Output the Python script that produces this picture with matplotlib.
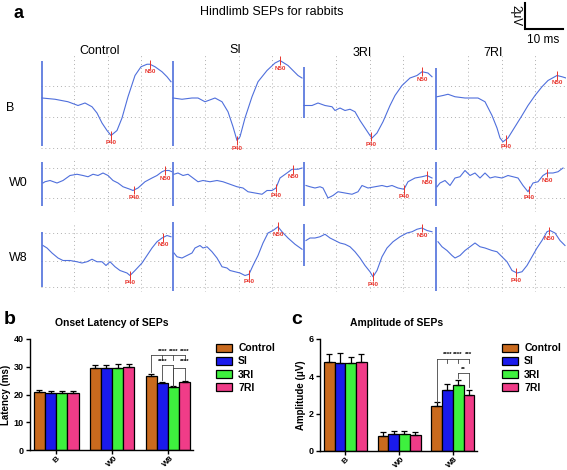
import numpy as np
import matplotlib
matplotlib.use('Agg')
import matplotlib.pyplot as plt
from matplotlib.patches import Patch

plt.rcParams['font.family'] = ['Liberation Sans', 'DejaVu Sans']

W, H = 567, 470

groups = ['Control', 'SI', '3RI', '7RI']
sessions = ['B', 'W0', 'W8']
bar_colors = ['#c96a1e', '#1a1aec', '#3ef03e', '#f03c88']
trace_color = '#4f6fdc'
mark_color = '#e8342c'

# ---- panel a: SEP traces (t in ms, v in uV) ----
t_b_control = [0.3, 4.2, 8.1, 11.1, 13.2, 15.3, 16.8, 18.3, 19.8, 21.0, 22.8, 24.3, 26.1, 28.2, 30.0, 31.8, 32.7, 34.2, 36.3, 37.8, 39.0]
v_b_control = [0.0, -0.1, -0.3, -0.6, -0.4, -0.7, -1.2, -2.0, -2.6, -3.0, -2.6, -1.6, 0.1, 1.8, 2.5, 2.7, 2.7, 2.5, 2.1, 1.7, 1.3]
t_b_si = [0.3, 3.0, 6.0, 7.8, 9.9, 12.9, 15.0, 16.8, 18.3, 19.5, 20.4, 21.9, 24.0, 25.8, 28.5, 30.9, 32.4, 34.8, 37.8, 39.0]
v_b_si = [0.0, -0.1, 0.0, 0.0, -0.3, 0.0, -0.3, -1.1, -2.3, -3.4, -3.1, -1.6, 0.1, 1.3, 2.2, 2.8, 3.0, 2.6, 1.8, 1.6]
t_b_3ri = [0.3, 2.7, 4.5, 6.6, 8.7, 9.6, 11.1, 12.6, 14.1, 15.6, 17.1, 18.6, 20.1, 20.7, 22.2, 24.0, 26.1, 27.6, 29.7, 32.1, 34.2, 35.7, 37.5, 38.7]
v_b_3ri = [-0.6, -0.6, -0.4, -0.6, -0.7, -1.0, -0.8, -1.0, -0.9, -1.1, -1.8, -2.4, -3.0, -3.2, -2.8, -1.9, -0.6, 0.2, 1.0, 1.6, 1.8, 2.1, 2.0, 1.7]
t_b_7ri = [0.6, 2.4, 3.9, 6.0, 9.0, 11.1, 12.9, 15.0, 17.1, 18.6, 19.5, 20.4, 21.9, 24.0, 26.1, 27.9, 30.0, 32.1, 33.9, 36.6, 38.1, 39.3]
v_b_7ri = [0.1, 0.2, 0.3, 0.1, 0.0, 0.0, 0.0, -0.3, -1.4, -2.4, -3.2, -3.5, -3.2, -2.3, -1.4, -0.6, 0.2, 0.9, 1.4, 1.8, 1.7, 1.6]

t_w0_control = [0.6, 1.2, 2.7, 4.8, 6.6, 8.7, 10.8, 12.6, 14.1, 15.6, 17.1, 18.6, 20.1, 21.6, 23.1, 24.6, 26.7, 27.6, 29.1, 31.2, 33.3, 34.8, 36.3, 37.2, 38.4, 39.3]
v_w0_control = [0.0, 0.1, 0.2, 0.0, 0.2, 0.6, 0.7, 0.6, 0.5, 0.7, 0.6, 0.8, 0.6, 0.2, 0.0, -0.3, -0.5, -0.6, -0.4, 0.1, 0.4, 0.6, 0.9, 1.0, 1.0, 0.9]
t_w0_si = [0.6, 1.8, 3.3, 4.8, 6.3, 7.8, 9.3, 11.4, 13.5, 15.3, 17.4, 19.5, 21.3, 22.8, 24.9, 27.0, 28.5, 30.0, 31.2, 32.4, 34.5, 36.0, 37.8, 39.0]
v_w0_si = [0.7, 0.8, 0.6, 0.7, 0.4, 0.1, 0.2, 0.1, 0.2, 0.1, -0.1, -0.3, -0.4, -0.7, -0.8, -0.9, -0.6, -0.6, -0.4, 0.4, 0.8, 1.1, 1.1, 1.2]
t_w0_3ri = [0.9, 2.1, 3.6, 5.1, 6.0, 7.5, 9.0, 10.5, 12.6, 14.7, 16.5, 17.7, 19.5, 21.6, 23.7, 25.2, 26.7, 28.5, 30.3, 31.5, 33.6, 35.7, 37.2, 38.7]
v_w0_3ri = [-0.2, -0.3, -0.4, -0.3, -0.4, -1.2, -1.0, -0.7, -0.8, -0.9, -0.7, -0.2, -0.4, -0.3, -0.2, -0.3, -0.2, -0.4, -0.5, 0.1, 0.4, 0.5, 0.6, 0.4]
t_w0_7ri = [0.6, 1.5, 3.0, 4.5, 6.0, 7.5, 9.0, 10.5, 12.0, 13.5, 15.0, 16.5, 18.0, 20.1, 21.9, 23.4, 24.9, 26.4, 27.9, 29.4, 30.9, 32.4, 33.6, 35.4, 36.9, 38.4]
v_w0_7ri = [-0.3, 0.0, 0.2, -0.2, 0.4, 0.5, 1.0, 0.6, 0.8, 0.4, 0.8, 0.4, 0.5, 0.4, 0.6, 0.5, 0.4, -0.2, -0.7, 0.0, 0.1, 0.6, 0.8, 0.8, 0.9, 1.2]

t_w8_control = [0.6, 1.8, 3.3, 5.1, 6.6, 8.7, 10.8, 12.3, 13.8, 15.3, 16.8, 18.3, 19.5, 20.7, 22.2, 23.7, 25.8, 26.7, 28.2, 30.3, 31.8, 33.3, 34.8, 36.3, 37.8, 39.0]
v_w8_control = [1.0, 0.8, 0.4, 0.0, -0.2, -0.2, -0.3, -0.4, -0.3, -0.1, -0.3, -0.3, -0.6, -0.3, -0.7, -1.0, -1.2, -1.4, -1.0, -0.4, 0.2, 0.8, 1.3, 1.6, 1.8, 1.7]
t_w8_si = [0.6, 1.5, 3.0, 4.5, 6.0, 6.9, 8.4, 9.3, 10.5, 12.0, 13.5, 15.0, 16.5, 17.4, 18.9, 20.4, 21.9, 23.1, 24.3, 25.8, 27.3, 28.8, 30.3, 31.8, 33.0, 34.8, 36.9, 39.0]
v_w8_si = [0.4, 0.1, 0.0, 0.2, 0.4, 0.8, 1.0, 0.8, 0.9, 0.5, 0.0, -0.7, -0.8, -1.0, -1.1, -1.2, -1.4, -1.3, -0.6, 0.2, 1.2, 2.0, 2.2, 2.5, 2.1, 1.6, 1.1, 0.7]
t_w8_3ri = [0.9, 2.1, 3.6, 5.1, 6.6, 8.1, 9.6, 11.1, 12.6, 14.1, 15.6, 17.1, 18.6, 20.1, 21.0, 22.2, 23.7, 25.2, 27.0, 29.1, 31.2, 32.7, 34.2, 35.7, 37.2, 38.7]
v_w8_3ri = [1.4, 1.6, 1.6, 1.7, 1.9, 1.6, 1.4, 1.2, 1.1, 0.9, 0.5, 0.0, -0.6, -1.1, -1.5, -1.0, 0.1, 0.8, 1.3, 1.7, 2.0, 2.1, 2.3, 2.4, 2.2, 2.1]
t_w8_7ri = [0.9, 2.1, 3.6, 5.1, 6.0, 7.5, 9.0, 10.5, 12.0, 13.5, 15.0, 17.1, 18.6, 20.1, 21.6, 23.1, 24.6, 26.1, 27.6, 29.1, 30.6, 32.1, 33.6, 34.5, 36.0, 37.5, 39.0]
v_w8_7ri = [1.3, 0.9, 0.6, 0.2, 0.0, 0.2, 0.6, 0.9, 1.2, 0.9, 0.8, 0.6, 0.5, 0.1, -0.3, -1.0, -1.2, -1.1, -0.6, 0.1, 0.8, 1.4, 2.1, 2.2, 2.0, 1.4, 1.0]

# stimulus artefact extent (uV) and peak latencies (ms) per trace
art_b = [(-3.8, 3.0), (-3.8, 3.0), (-1.6, 2.5), (-4.2, 2.4)]
art_w0 = [(-1.8, 1.7), (-1.8, 1.7), (-1.8, 1.7), (-1.8, 1.7)]
art_w8 = [(-2.3, 2.1), (-2.6, 2.9), (-0.6, 2.7), (-2.6, 2.5)]
p40_b = [21.0, 19.5, 20.4, 21.3]
n50_b = [32.7, 32.4, 35.7, 36.6]
p40_w0 = [27.9, 31.2, 30.3, 28.2]
n50_w0 = [37.2, 36.3, 37.2, 33.6]
p40_w8 = [26.7, 23.1, 21.0, 24.3]
n50_w8 = [36.6, 31.8, 35.7, 34.2]

# ---- panel b / c: bar data ----
lat_control = [20.8, 29.4, 26.7]
lat_si = [20.7, 29.6, 24.1]
lat_3ri = [20.7, 29.7, 22.6]
lat_7ri = [20.6, 30.0, 24.5]
lat_control_err = [1.0, 1.1, 0.7]
lat_si_err = [0.7, 1.2, 0.3]
lat_3ri_err = [0.6, 1.3, 0.5]
lat_7ri_err = [0.6, 1.1, 0.4]

amp_control = [4.75, 0.80, 2.40]
amp_si = [4.70, 0.90, 3.28]
amp_3ri = [4.70, 0.90, 3.55]
amp_7ri = [4.78, 0.88, 3.02]
amp_control_err = [0.45, 0.20, 0.20]
amp_si_err = [0.55, 0.15, 0.30]
amp_3ri_err = [0.35, 0.15, 0.25]
amp_7ri_err = [0.40, 0.12, 0.26]


fig = plt.figure(figsize=(W / 100, H / 100), dpi=100)


def px_rect(x, y, w, h):
    return [x / W, 1 - (y + h) / H, w / W, h / H]


def draw_trace(left, top, height, ylim, t, v, art, p40, n50, grid_y):
    ax = fig.add_axes(px_rect(left, top, 131, height))
    ax.set_xlim(0, 39.3)
    ax.set_ylim(*ylim)
    ax.axis('off')
    for gx in (10, 20, 30):
        ax.axvline(gx, color='#b0b0b0', lw=0.7, ls=(0, (1, 3)))
    for gy in grid_y:
        ax.axhline(gy, color='#b0b0b0', lw=0.7, ls=(0, (1, 3)))
    ax.vlines(0.15, art[0], art[1], color=trace_color, lw=1.2)
    ax.plot(t, v, color=trace_color, lw=0.8)
    for name, tm in (('P40', p40), ('N50', n50)):
        y = np.interp(tm, t, v)
        ax.vlines(tm, y - 0.35, y + 0.35, color=mark_color, lw=0.7)
        ax.text(tm, y - 0.4, name, ha='center', va='top', fontsize=4.5,
                color=mark_color, fontweight='bold')


rows = [
    (55, 95, (-4.16, 3.44), [1.0, -1.5, -4.0],
     [(t_b_control, v_b_control), (t_b_si, v_b_si), (t_b_3ri, v_b_3ri), (t_b_7ri, v_b_7ri)],
     art_b, p40_b, n50_b),
    (158, 54, (-2.32, 2.0), [1.2, -1.2],
     [(t_w0_control, v_w0_control), (t_w0_si, v_w0_si), (t_w0_3ri, v_w0_3ri), (t_w0_7ri, v_w0_7ri)],
     art_w0, p40_w0, n50_w0),
    (222, 70, (-2.72, 2.88), [2.0, -0.2, -2.3],
     [(t_w8_control, v_w8_control), (t_w8_si, v_w8_si), (t_w8_3ri, v_w8_3ri), (t_w8_7ri, v_w8_7ri)],
     art_w8, p40_w8, n50_w8),
]
col_left = [41, 172, 303, 435]

for top, height, ylim, grid_y, traces, arts, p40s, n50s in rows:
    for j in range(4):
        t, v = traces[j]
        draw_trace(col_left[j], top, height, ylim, t, v, arts[j], p40s[j], n50s[j], grid_y)

# panel a texts
fig.text(13 / W, 1 - 14 / H, 'a', fontsize=13, fontweight='bold', va='center')
fig.text(272 / W, 1 - 12 / H, 'Hindlimb SEPs for rabbits', fontsize=9, ha='center', va='center')
for name, xc, yc in zip(groups, [100, 235, 362, 493], [51, 50, 53, 53]):
    fig.text(xc / W, 1 - yc / H, name, fontsize=9, ha='center', va='center')
for name, xc, yc in zip(sessions, [10, 18, 18], [108, 183, 258]):
    fig.text(xc / W, 1 - yc / H, name, fontsize=9, ha='center', va='center')

# scale bar
sb = fig.add_axes(px_rect(525, 2, 45, 29))
sb.set_xlim(0, 11.8)
sb.set_ylim(-0.15, 2.08)
sb.axis('off')
sb.plot([0, 0, 10], [2, 0, 0], color='black', lw=1.5, solid_joinstyle='miter', clip_on=False)
fig.text(515 / W, 1 - 16 / H, '2μV', fontsize=8.5, rotation=-90, ha='center', va='center')
fig.text(543 / W, 1 - 40 / H, '10 ms', fontsize=8.5, ha='center', va='center')


def bar_panel(rect, means, errs, ylim, yticks, ylabel):
    ax = fig.add_axes(rect)
    x = np.arange(len(sessions))
    w = 0.2
    for i in range(4):
        ax.bar(x - 0.3 + i * w, means[i], w, color=bar_colors[i], edgecolor='black',
               lw=0.9, label=groups[i],
               yerr=[np.zeros(len(sessions)), errs[i]],
               error_kw=dict(ecolor='black', elinewidth=0.9, capsize=2.2, capthick=0.9))
    ax.set_xlim(-0.47, 2.45)
    ax.set_ylim(*ylim)
    ax.set_yticks(yticks)
    ax.set_xticks(x)
    ax.set_xticklabels(sessions, rotation=45, ha='center', va='top')
    for s in ('top', 'right'):
        ax.spines[s].set_visible(False)
    for s in ('left', 'bottom'):
        ax.spines[s].set_linewidth(1.0)
    ax.tick_params(labelsize=6.5, width=1.0, length=3, pad=1.5)
    ax.tick_params(axis='x', labelsize=6, pad=0.5)
    for lab in ax.get_xticklabels() + ax.get_yticklabels():
        lab.set_fontweight('bold')
    ax.set_ylabel(ylabel, fontsize=7, fontweight='bold', labelpad=2)
    return ax


def bracket(ax, xs, ybar, legs, lw=0.6):
    for xx, yy in zip(xs, legs):
        ax.plot([xx, xx], [yy, ybar], color='#444444', lw=lw, clip_on=False)
    ax.plot([xs[0], xs[-1]], [ybar, ybar], color='#444444', lw=lw, clip_on=False)


# panel b
axb = bar_panel(px_rect(30, 339, 163, 111),
                [lat_control, lat_si, lat_3ri, lat_7ri],
                [lat_control_err, lat_si_err, lat_3ri_err, lat_7ri_err],
                (0, 40), [0, 10, 20, 30, 40], 'Latency (ms)')
bracket(axb, [1.7, 1.9, 2.1, 2.3], 34.2, [28.2, 32.4, 32.4, 32.4])
for xx in (1.9, 2.1, 2.3):
    axb.text(xx, 35.6, '****', ha='center', va='center', fontsize=4.5, fontweight='bold')
bracket(axb, [1.9, 2.1], 30.6, [25.2, 23.1])
bracket(axb, [2.1, 2.3], 29.4, [23.1, 25.2])
axb.text(1.9, 31.8, '****', ha='center', va='center', fontsize=4.5, fontweight='bold')
axb.text(2.3, 31.8, '****', ha='center', va='center', fontsize=4.5, fontweight='bold')

# panel c
axc = bar_panel(px_rect(320, 339, 157, 112),
                [amp_control, amp_si, amp_3ri, amp_7ri],
                [amp_control_err, amp_si_err, amp_3ri_err, amp_7ri_err],
                (0, 6), [0, 2, 4, 6], 'Amplitude (μV)')
bracket(axc, [1.7, 1.9, 2.1, 2.3], 4.92, [2.64, 4.7, 4.7, 4.7])
for xx, s in zip((1.9, 2.1, 2.3), ('****', '****', '***')):
    axc.text(xx, 5.15, s, ha='center', va='center', fontsize=4.5, fontweight='bold')
bracket(axc, [2.1, 2.3], 4.2, [3.9, 3.45])
axc.text(2.2, 4.36, '**', ha='center', va='center', fontsize=4.5, fontweight='bold')

# titles, letters, legends
fig.text(10 / W, 1 - 319 / H, 'b', fontsize=14, fontweight='bold', ha='center', va='center')
fig.text(112 / W, 1 - 323 / H, 'Onset Latency of SEPs', fontsize=7.5, fontweight='bold', ha='center', va='center')
fig.text(297 / W, 1 - 320 / H, 'c', fontsize=14, fontweight='bold', ha='center', va='center')
fig.text(397 / W, 1 - 323 / H, 'Amplitude of SEPs', fontsize=7.5, fontweight='bold', ha='center', va='center')

handles = [Patch(facecolor=c, edgecolor='black', lw=0.9) for c in bar_colors]
for lx in (209, 495):
    fig.legend(handles, groups, loc='upper left', bbox_to_anchor=(lx / W, 1 - 336 / H),
               bbox_transform=fig.transFigure, frameon=False,
               prop=dict(weight='bold', size=7.5), handlelength=1.5, handleheight=0.8,
               labelspacing=0.3, handletextpad=0.6, borderpad=0.2)

fig.savefig('out.png', dpi=100)
